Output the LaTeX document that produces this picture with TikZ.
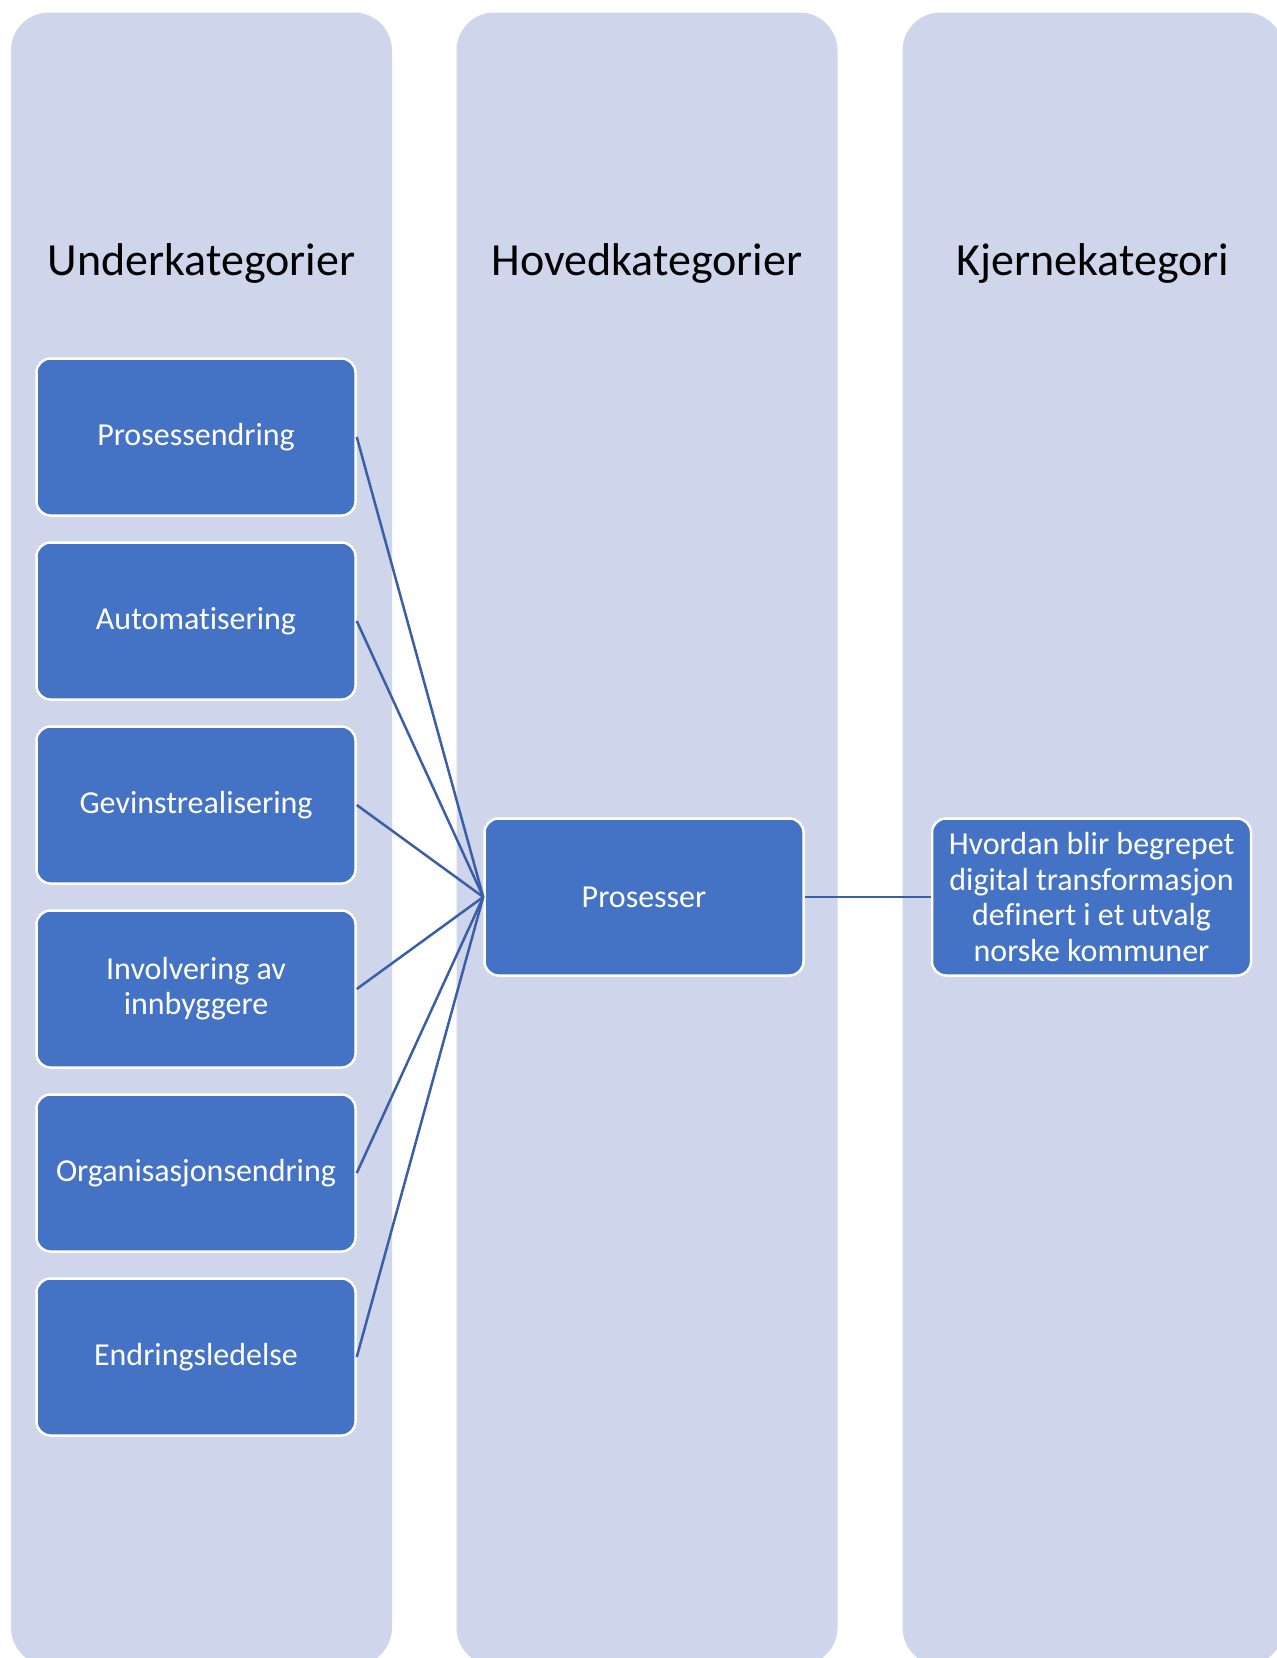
\documentclass[tikz,border=0pt]{standalone}
\usepackage{fontspec}
\setmainfont{Carlito}[Ligatures={NoCommon}]
\usetikzlibrary{positioning}
\definecolor{colfill}{RGB}{207,213,234}
\definecolor{boxfill}{RGB}{68,114,196}
\definecolor{linkcol}{RGB}{59,94,168}

\begin{document}
\begin{tikzpicture}[x=1pt, y=-1pt, node distance=24.5pt,
    column/.style={rectangle, rounded corners=38pt, fill=colfill, minimum width=381pt, minimum height=1653pt, inner sep=0pt},
    head/.style={anchor=base, font=\fontsize{46}{55}\selectfont},
    main node/.style={rectangle, rounded corners=14pt, draw=white, line width=2.5pt, fill=boxfill, text=white, minimum width=319pt, minimum height=157pt, align=center, font=\fontsize{32}{35}\selectfont},
    link/.style={draw=linkcol, line width=2.5pt}]

  \clip (0,0) rectangle (1277,1658);
  \fill[white] (0,0) rectangle (1277,1658);

  \node[column] (colU) at (201.5,839) {};
  \node[column] (colH) at (647,839) {};
  \node[column] (colK) at (1093,839) {};

  \node[head] (hU) at (201.5,275) {Underkategorier};
  \node[head] (hH) at (647,275) {Hovedkategorier};
  \node[head] (hK) at (1093,275) {Kjernekategori};

  \node[main node] (s1) at (196,437) {Prosessendring};
  \node[main node] (s2) [below=of s1] {Automatisering};
  \node[main node] (s3) [below=of s2] {Gevinstrealisering};
  \node[main node] (s4) [below=of s3] {Involvering av\\innbyggere};
  \node[main node] (s5) [below=of s4] {Organisasjonsendring};
  \node[main node] (s6) [below=of s5] {Endringsledelse};

  \node[main node] (pros) at (644,897) {Prosesser};
  \node[main node, font=\fontsize{32}{35.4}\selectfont] (kjerne) [right=126pt of pros]
    {Hvordan blir begrepet\\digital transformasjon\\definert i et utvalg\\norske kommuner};

  \path[link]
    (s1.east) edge (pros.west)
    (s2.east) edge (pros.west)
    (s3.east) edge (pros.west)
    (s4.east) edge (pros.west)
    (s5.east) edge (pros.west)
    (s6.east) edge (pros.west)
    (pros.east) edge (kjerne.west);
\end{tikzpicture}
\end{document}
